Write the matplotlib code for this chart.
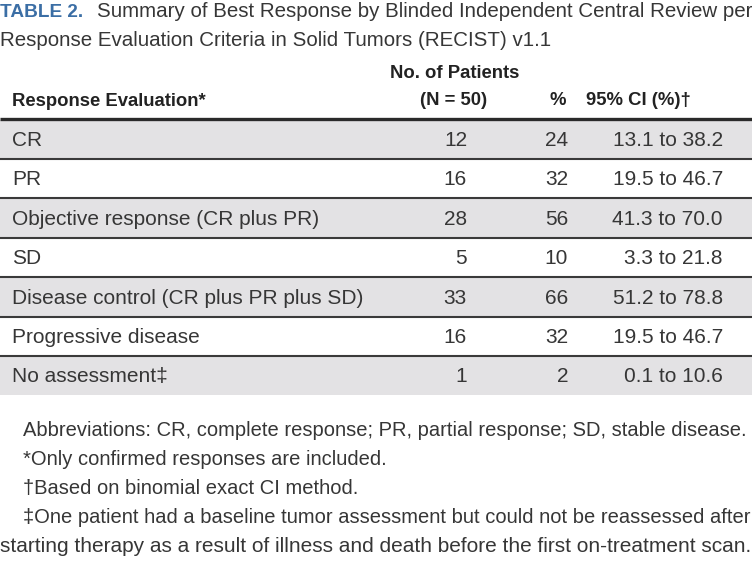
import matplotlib.pyplot as plt
from matplotlib.patches import Rectangle

# table content
responses = ["CR", "PR", "Objective response (CR plus PR)", "SD",
             "Disease control (CR plus PR plus SD)", "Progressive disease",
             "No assessment\u2021"]
n_patients = [12, 16, 28, 5, 33, 16, 1]
pct = [24, 32, 56, 10, 66, 32, 2]
ci_low = [13.1, 19.5, 41.3, 3.3, 51.2, 19.5, 0.1]
ci_high = [38.2, 46.7, 70.0, 21.8, 78.8, 46.7, 10.6]

title_tag = "TABLE 2."
title_lines = ["Summary of Best Response by Blinded Independent Central Review per",
               "Response Evaluation Criteria in Solid Tumors (RECIST) v1.1"]
footnotes = ["Abbreviations: CR, complete response; PR, partial response; SD, stable disease.",
             "*Only confirmed responses are included.",
             "\u2020Based on binomial exact CI method.",
             "\u2021One patient had a baseline tumor assessment but could not be reassessed after",
             "starting therapy as a result of illness and death before the first on-treatment scan."]

BODY = ["Liberation Sans", "DejaVu Sans"]
BOLD = ["Liberation Sans", "DejaVu Sans"]
BLUE = "#3b6ea5"
TXT = "#363636"
GRAY = "#e3e2e4"

fig = plt.figure(figsize=(7.52, 5.62), dpi=100)
ax = fig.add_axes([0, 0, 1, 1])
ax.set_xlim(0, 752)
ax.set_ylim(562, 0)
ax.axis("off")

# title
ax.text(0, 17, title_tag, family=BOLD, weight="bold", fontsize=13.7, color=BLUE, va="baseline")
ax.text(97, 17, title_lines[0], family=BODY, fontsize=14.8, color=TXT, va="baseline")
ax.text(0, 46, title_lines[1], family=BODY, fontsize=14.8, color=TXT, va="baseline")

# column headers
hdr = dict(family=BOLD, weight="bold", fontsize=13.3, color="#222222", va="baseline")
ax.text(12, 106, "Response Evaluation*", ha="left", **hdr)
ax.text(455, 78, "No. of Patients", ha="center", **hdr)
ax.text(454, 105, "(N = 50)", ha="center", **hdr)
ax.text(566, 105, "%", ha="right", **hdr)
ax.text(638, 105, "95% CI (%)\u2020", ha="center", **hdr)

# rows
top, pitch = 119.5, 39.4
for i, lab in enumerate(responses):
    y0 = top + i * pitch
    if i % 2 == 0:
        ax.add_patch(Rectangle((0, y0), 752, pitch, facecolor=GRAY, edgecolor="none"))
    yb = y0 + pitch / 2 + 6.8
    kw = dict(family=BODY, fontsize=15, color=TXT, va="baseline")
    ax.text(12, yb, lab, ha="left", **kw)
    ax.text(467, yb, str(n_patients[i]), ha="right", **kw)
    ax.text(568, yb, str(pct[i]), ha="right", **kw)
    ax.text(723, yb, f"{ci_low[i]:.1f} to {ci_high[i]:.1f}", ha="right", **kw)
    if 0 < i:
        ax.plot([0, 752], [y0, y0], color="#3a3a3a", lw=1.5, solid_capstyle="butt")
ax.plot([0, 752], [118.5, 118.5], color="#2a2a2a", lw=2.4, solid_capstyle="butt")

# footnotes
fx = [23, 23, 23, 23, 0]
fs = [14.5, 14.5, 14.5, 14.5, 15]
for j, note in enumerate(footnotes):
    ax.text(fx[j], 436 + 29 * j, note, family=BODY, fontsize=fs[j], color=TXT, va="baseline")

fig.savefig("out.png", dpi=100)
